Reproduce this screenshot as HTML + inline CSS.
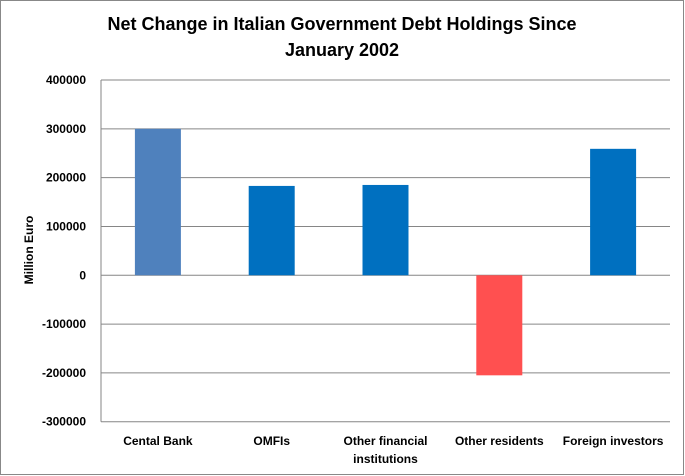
<!DOCTYPE html>
<html><head><meta charset="utf-8"><style>
body{margin:0;background:#fff;}
svg{display:block;font-family:"Liberation Sans",sans-serif;}
</style></head><body>
<svg id="chart" width="685" height="476">
<rect x="0.5" y="0.5" width="683" height="474" fill="#fff" stroke="#888"/>
<text x="342" y="30" text-anchor="middle" font-size="18" font-weight="bold">Net Change in Italian Government Debt Holdings Since</text>
<text x="342" y="56" text-anchor="middle" font-size="18" font-weight="bold">January 2002</text>
<text transform="translate(33,250) rotate(-90)" text-anchor="middle" font-size="12" font-weight="bold">Million Euro</text>
<g id="grid"></g><g id="bars"></g><g id="labels"></g>
</svg>
<script>
const categories=["Cental Bank","OMFIs","Other financial|institutions","Other residents","Foreign investors"];
const values=[300000,183000,185000,-205000,259000];
const colors=["#4f81bd","#0070c0","#0070c0","#ff5050","#0070c0"];
const ticks=[400000,300000,200000,100000,0,-100000,-200000,-300000];
const NS="http://www.w3.org/2000/svg";
const pLeft=101,pRight=670,pTop=80,pBottom=421.7,ymax=400000,ymin=-300000;
function yS(v){return pTop+(ymax-v)/(ymax-ymin)*(pBottom-pTop);}
const bw=(pRight-pLeft)/categories.length;
function xc(i){return pLeft+bw*(i+0.5);}
const grid=document.getElementById('grid'),bars=document.getElementById('bars'),labels=document.getElementById('labels');
ticks.forEach(t=>{
 const l=document.createElementNS(NS,'line');
 l.setAttribute('x1',pLeft);l.setAttribute('x2',pRight);l.setAttribute('y1',yS(t));l.setAttribute('y2',yS(t));
 l.setAttribute('stroke','#868686');l.setAttribute('stroke-width','1');
 
 
 grid.appendChild(l);
 const tx=document.createElementNS(NS,'text');
 tx.setAttribute('x',86);tx.setAttribute('y',yS(t)+4);tx.setAttribute('text-anchor','end');
 tx.setAttribute('font-size','12');tx.setAttribute('font-weight','bold');tx.textContent=t;
 
 
 grid.appendChild(tx);
});
const ax=document.createElementNS(NS,'line');
ax.setAttribute('x1',pLeft);ax.setAttribute('x2',pLeft);ax.setAttribute('y1',pTop);ax.setAttribute('y2',pBottom);
ax.setAttribute('stroke','#868686');


grid.appendChild(ax);
categories.forEach((c,i)=>{
 const v=values[i];const w=46;
 const r=document.createElementNS(NS,'rect');
 r.setAttribute('x',xc(i)-w/2);r.setAttribute('width',w);
 r.setAttribute('y',Math.min(yS(v),yS(0)));r.setAttribute('height',Math.abs(yS(v)-yS(0)));
 r.setAttribute('fill',colors[i]);
 
 
 bars.appendChild(r);
 c.split('|').forEach((ln,j)=>{
  const t=document.createElementNS(NS,'text');
  t.setAttribute('x',xc(i));t.setAttribute('y',445+j*18);t.setAttribute('text-anchor','middle');
  t.setAttribute('font-size','12');t.setAttribute('font-weight','bold');t.textContent=ln;
  
  
  labels.appendChild(t);
 });
});
</script>
</body></html>
